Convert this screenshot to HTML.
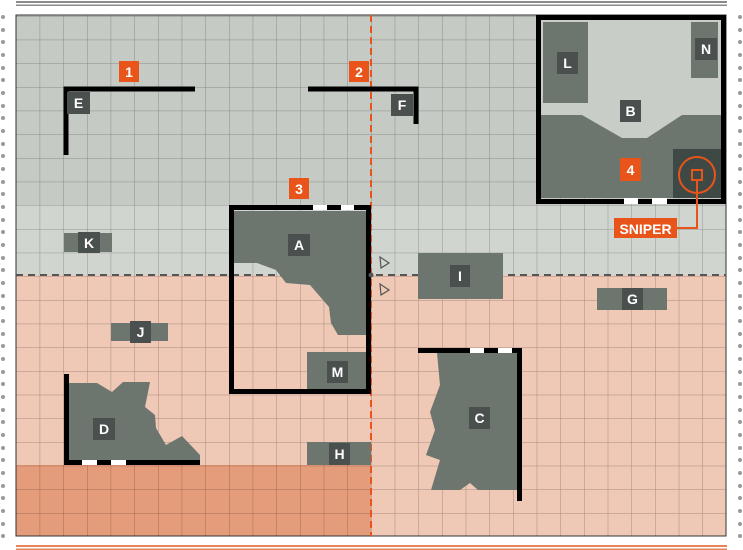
<!DOCTYPE html>
<html><head><meta charset="utf-8"><style>
html,body{margin:0;padding:0;background:#fff;width:743px;height:550px;overflow:hidden}
text{font-family:"Liberation Sans",sans-serif;font-weight:bold;font-size:14px;fill:#fff}
</style></head><body>
<svg width="743" height="550" viewBox="0 0 743 550" xmlns="http://www.w3.org/2000/svg">
<defs>
<pattern id="g" x="16" y="16" width="23.67" height="23.67" patternUnits="userSpaceOnUse">
<path d="M0 0H23.67M0 0V23.67" stroke="#000" stroke-opacity="0.3" stroke-width="1" fill="none"/>
</pattern>
</defs>
<rect x="16" y="1" width="711" height="2" fill="#8a8a8a"/>
<rect x="16" y="4.5" width="711" height="1.5" fill="#8a8a8a"/>
<rect x="16" y="545" width="711" height="2" fill="#e8845a"/>
<rect x="16" y="548.5" width="711" height="1.5" fill="#e8845a"/>
<rect x="16" y="15" width="710" height="190" fill="#c5cac5"/>
<rect x="16" y="205" width="710" height="70" fill="#d1d5d0"/>
<rect x="16" y="275" width="710" height="261" fill="#efc8b6"/>
<rect x="16" y="465" width="355" height="71" fill="#e59c7a"/>
<rect x="16" y="15" width="710" height="521" fill="url(#g)"/>
<rect x="16" y="15" width="710" height="521" fill="none" stroke="#333" stroke-width="1"/>
<line x1="16" y1="275" x2="726" y2="275" stroke="#555" stroke-width="2" stroke-dasharray="7,5"/>
<line x1="371" y1="15" x2="371" y2="536" stroke="#e8541a" stroke-width="2" stroke-dasharray="7,4"/>
<path d="M66 155V89H195" stroke="#000" stroke-width="5" fill="none"/>
<path d="M308 89H416V124" stroke="#000" stroke-width="5" fill="none"/>
<polygon points="234,211 366,211 366,335 338,335 331,323 329,307 310,285 286,283 276,270 257,263 234,263" fill="#6c766f"/>
<rect x="307" y="352" width="59" height="37" fill="#6c766f"/>
<rect x="231.5" y="207.5" width="137" height="184" fill="none" stroke="#000" stroke-width="5"/>
<rect x="313" y="205" width="14" height="5" fill="#fff"/>
<rect x="341" y="205" width="13" height="5" fill="#fff"/>
<circle cx="371" cy="275" r="2.5" fill="#555"/>
<path d="M380 257L389 263L381 268Z" fill="none" stroke="#555" stroke-width="1.2"/>
<path d="M380 284L389 290L381 295Z" fill="none" stroke="#555" stroke-width="1.2"/>
<rect x="541" y="20" width="180" height="178" fill="#c8cdc8"/>
<rect x="543" y="22" width="45" height="81" fill="#6c766f"/>
<rect x="691" y="22" width="27" height="56" fill="#6c766f"/>
<polygon points="541,115 582,115 622,138 647,138 682,115 721,115 721,198 541,198" fill="#6c766f"/>
<rect x="673" y="149" width="48" height="49" fill="#3e4945"/>
<rect x="538.5" y="17.5" width="185" height="184" fill="none" stroke="#000" stroke-width="5"/>
<rect x="624" y="198" width="14" height="6" fill="#fff"/>
<rect x="652" y="198" width="15" height="6" fill="#fff"/>
<circle cx="697" cy="175" r="18" fill="none" stroke="#e8541a" stroke-width="2"/>
<rect x="692" y="170" width="10" height="10" fill="none" stroke="#e8541a" stroke-width="2"/>
<path d="M697 180V228H677" fill="none" stroke="#e8541a" stroke-width="2"/>
<rect x="614" y="218" width="63" height="20" fill="#e8541a"/>
<text x="645.5" y="234" text-anchor="middle">SNIPER</text>
<rect x="64" y="233" width="48" height="19" fill="#6c766f"/>
<rect x="418" y="253" width="85" height="46" fill="#6c766f"/>
<rect x="597" y="288" width="70" height="22" fill="#6c766f"/>
<rect x="111" y="323" width="57" height="18" fill="#6c766f"/>
<rect x="307" y="442" width="64" height="23" fill="#6c766f"/>
<polygon points="69,383 97,383 112,392 123,382 150,382 145,407 155,415 156,428 166,445 182,436 200,455 200,462 69,462" fill="#6c766f"/>
<path d="M66.5 374V462.5H200" stroke="#000" stroke-width="5" fill="none"/>
<rect x="82" y="460" width="15" height="5" fill="#fff"/>
<rect x="111" y="460" width="15" height="5" fill="#fff"/>
<polygon points="437,353 517,353 517,490 478,490 470,483 460,490 431,490 440,460 426,455 435,430 430,412 440,385" fill="#6c766f"/>
<path d="M418 350.5H519.5V501" stroke="#000" stroke-width="5" fill="none"/>
<rect x="470" y="348" width="14" height="5" fill="#fff"/>
<rect x="498" y="348" width="14" height="5" fill="#fff"/>
<g fill="#4a504d">
<rect x="67" y="92" width="23" height="22"/><rect x="391" y="94" width="22" height="22"/>
<rect x="78" y="232" width="22" height="21"/><rect x="288" y="234" width="22" height="22"/>
<rect x="450" y="265" width="20" height="22"/><rect x="622" y="288" width="21" height="22"/>
<rect x="130" y="321" width="21" height="22"/><rect x="327" y="361" width="21" height="22"/>
<rect x="93" y="418" width="22" height="22"/><rect x="329" y="443" width="21" height="22"/>
<rect x="469" y="407" width="21" height="22"/><rect x="557" y="52" width="21" height="22"/>
<rect x="695" y="38" width="22" height="22"/><rect x="620" y="100" width="21" height="22"/>
</g>
<g fill="#e8541a">
<rect x="119" y="61" width="20" height="21"/><rect x="349" y="61" width="20" height="21"/>
<rect x="289" y="178" width="20" height="21"/><rect x="620" y="158" width="21" height="23"/>
</g>
<g text-anchor="middle">
<text x="78.5" y="108">E</text><text x="402" y="110">F</text>
<text x="89" y="248">K</text><text x="299" y="250">A</text>
<text x="460" y="281">I</text><text x="632.5" y="304">G</text>
<text x="140.5" y="337">J</text><text x="337.5" y="377">M</text>
<text x="104" y="434">D</text><text x="339.5" y="459">H</text>
<text x="479.5" y="423">C</text><text x="567.5" y="68">L</text>
<text x="706" y="54">N</text><text x="630.5" y="116">B</text>
<text x="129" y="77">1</text><text x="359" y="77">2</text>
<text x="299" y="194">3</text><text x="630.5" y="175">4</text>
</g>
<g fill="#9a9a9a">
<circle cx="3" cy="17" r="2"/><circle cx="3" cy="30" r="2"/><circle cx="3" cy="42" r="2"/><circle cx="3" cy="55" r="2"/><circle cx="3" cy="68" r="2"/><circle cx="3" cy="80" r="2"/><circle cx="3" cy="93" r="2"/><circle cx="3" cy="106" r="2"/><circle cx="3" cy="118" r="2"/><circle cx="3" cy="131" r="2"/><circle cx="3" cy="144" r="2"/><circle cx="3" cy="156" r="2"/><circle cx="3" cy="169" r="2"/><circle cx="3" cy="182" r="2"/><circle cx="3" cy="194" r="2"/><circle cx="3" cy="207" r="2"/><circle cx="3" cy="220" r="2"/><circle cx="3" cy="232" r="2"/><circle cx="3" cy="245" r="2"/><circle cx="3" cy="258" r="2"/><circle cx="3" cy="270" r="2"/><circle cx="3" cy="283" r="2"/><circle cx="3" cy="296" r="2"/><circle cx="3" cy="308" r="2"/><circle cx="3" cy="321" r="2"/><circle cx="3" cy="334" r="2"/><circle cx="3" cy="346" r="2"/><circle cx="3" cy="359" r="2"/><circle cx="3" cy="372" r="2"/><circle cx="3" cy="384" r="2"/><circle cx="3" cy="397" r="2"/><circle cx="3" cy="410" r="2"/><circle cx="3" cy="422" r="2"/><circle cx="3" cy="435" r="2"/><circle cx="3" cy="448" r="2"/><circle cx="3" cy="460" r="2"/><circle cx="3" cy="473" r="2"/><circle cx="3" cy="486" r="2"/><circle cx="3" cy="498" r="2"/><circle cx="3" cy="511" r="2"/><circle cx="3" cy="524" r="2"/><circle cx="3" cy="536" r="2"/>
<circle cx="740" cy="17" r="2"/><circle cx="740" cy="30" r="2"/><circle cx="740" cy="42" r="2"/><circle cx="740" cy="55" r="2"/><circle cx="740" cy="68" r="2"/><circle cx="740" cy="80" r="2"/><circle cx="740" cy="93" r="2"/><circle cx="740" cy="106" r="2"/><circle cx="740" cy="118" r="2"/><circle cx="740" cy="131" r="2"/><circle cx="740" cy="144" r="2"/><circle cx="740" cy="156" r="2"/><circle cx="740" cy="169" r="2"/><circle cx="740" cy="182" r="2"/><circle cx="740" cy="194" r="2"/><circle cx="740" cy="207" r="2"/><circle cx="740" cy="220" r="2"/><circle cx="740" cy="232" r="2"/><circle cx="740" cy="245" r="2"/><circle cx="740" cy="258" r="2"/><circle cx="740" cy="270" r="2"/><circle cx="740" cy="283" r="2"/><circle cx="740" cy="296" r="2"/><circle cx="740" cy="308" r="2"/><circle cx="740" cy="321" r="2"/><circle cx="740" cy="334" r="2"/><circle cx="740" cy="346" r="2"/><circle cx="740" cy="359" r="2"/><circle cx="740" cy="372" r="2"/><circle cx="740" cy="384" r="2"/><circle cx="740" cy="397" r="2"/><circle cx="740" cy="410" r="2"/><circle cx="740" cy="422" r="2"/><circle cx="740" cy="435" r="2"/><circle cx="740" cy="448" r="2"/><circle cx="740" cy="460" r="2"/><circle cx="740" cy="473" r="2"/><circle cx="740" cy="486" r="2"/><circle cx="740" cy="498" r="2"/><circle cx="740" cy="511" r="2"/><circle cx="740" cy="524" r="2"/><circle cx="740" cy="536" r="2"/>
</g>
</svg>
</body></html>
